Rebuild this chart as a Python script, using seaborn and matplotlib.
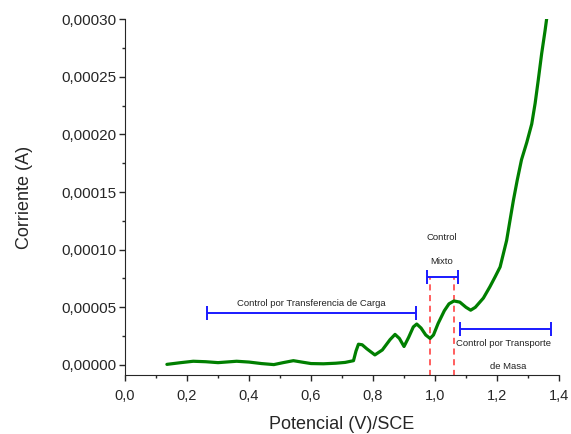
import pandas as pd
import matplotlib
matplotlib.use("Agg")
import matplotlib.pyplot as plt
import seaborn as sns
from matplotlib.ticker import FuncFormatter, MultipleLocator

potencial = [0.135, 0.18, 0.22, 0.26, 0.30, 0.33, 0.36, 0.40, 0.44, 0.48,
             0.51, 0.543, 0.57, 0.60, 0.64, 0.68, 0.71, 0.737, 0.745, 0.753,
             0.765, 0.78, 0.806, 0.83, 0.855, 0.871, 0.885, 0.90, 0.915, 0.93,
             0.941, 0.955, 0.97, 0.984, 0.995, 1.01, 1.03, 1.045, 1.061, 1.08,
             1.10, 1.115, 1.13, 1.156, 1.177, 1.194, 1.21, 1.231, 1.242, 1.253,
             1.265, 1.279, 1.296, 1.312, 1.323, 1.333, 1.344, 1.355, 1.36, 1.365]
corriente_e5 = [0.05, 0.2, 0.32, 0.28, 0.2, 0.26, 0.32, 0.25, 0.12, 0.03,
                0.2, 0.37, 0.25, 0.12, 0.1, 0.15, 0.22, 0.37, 1.2, 1.8,
                1.75, 1.4, 0.87, 1.3, 2.2, 2.65, 2.3, 1.6, 2.4, 3.3,
                3.55, 3.2, 2.6, 2.3, 2.6, 3.6, 4.7, 5.3, 5.55, 5.45,
                5.0, 4.75, 5.0, 5.8, 6.78, 7.65, 8.5, 10.8, 12.56, 14.3,
                16.0, 17.8, 19.3, 20.9, 22.7, 24.7, 27.0, 29.0, 30.0, 31.0]
corriente = [c * 1e-5 for c in corriente_e5]

# Rangos de control (inicio, fin, nivel)
rango_carga = (0.265, 0.938, 4.53e-5)
rango_mixto = (0.975, 1.073, 7.6e-5)
rango_masa = (1.079, 1.374, 3.09e-5)
lineas_mixto = [0.985, 1.061]

df = pd.DataFrame({"Potencial": potencial, "Corriente": corriente})

sns.set_style("ticks")
plt.rcParams["font.family"] = ["Liberation Sans", "DejaVu Sans"]

fig = plt.figure(figsize=(5.71, 4.34), dpi=100)
ax = fig.add_axes([0.219, 0.136, 0.76, 0.82])

sns.lineplot(data=df, x="Potencial", y="Corriente", color="#007f00",
             linewidth=2.3, ax=ax, sort=False)

# Líneas rojas discontinuas
for xv in lineas_mixto:
    ax.plot([xv, xv], [-1e-5, rango_mixto[2]], color="#ff3333",
            linestyle=(0, (4, 3)), linewidth=1.1, zorder=1)

# Barras azules de los rangos
for ini, fin, nivel in [rango_carga, rango_mixto, rango_masa]:
    ax.errorbar((ini + fin) / 2, nivel, xerr=(fin - ini) / 2, color="#1a1aff",
                capsize=5, elinewidth=1.4, capthick=1.4, fmt="none")

fs = 6.8
ax.text(0.6, 5.37e-5, "Control por Transferencia de Carga", ha="center",
        va="center", fontsize=fs, color="#222222")
ax.text(1.021, 11.07e-5, "Control", ha="center", va="center", fontsize=fs,
        color="#222222")
ax.text(1.021, 8.95e-5, "Mixto", ha="center", va="center", fontsize=fs,
        color="#222222")
ax.text(1.22, 1.88e-5, "Control por Transporte", ha="center", va="center",
        fontsize=fs, color="#222222")
ax.text(1.235, -0.15e-5, "de Masa", ha="center", va="center", fontsize=fs,
        color="#222222")

ax.set_xlim(0, 1.4)
ax.set_ylim(-0.87e-5, 30e-5)
ax.xaxis.set_major_locator(MultipleLocator(0.2))
ax.xaxis.set_minor_locator(MultipleLocator(0.1))
ax.yaxis.set_major_locator(MultipleLocator(5e-5))
ax.yaxis.set_minor_locator(MultipleLocator(2.5e-5))
ax.xaxis.set_major_formatter(FuncFormatter(lambda v, p: f"{v:.1f}".replace(".", ",")))
ax.yaxis.set_major_formatter(FuncFormatter(lambda v, p: f"{v:.5f}".replace(".", ",").replace("-", "")))
ax.tick_params(which="major", length=4.3, width=1, direction="out")
ax.tick_params(axis="y", labelsize=11, pad=2)
ax.tick_params(axis="x", labelsize=10.5, pad=6)
ax.tick_params(which="minor", length=2.5, width=1, direction="out")

ax.set_xlabel("Potencial (V)/SCE", fontsize=13, labelpad=9)
ax.set_ylabel("Corriente (A)", fontsize=13, labelpad=20)
sns.despine(ax=ax)

fig.savefig("out.png", dpi=100)
